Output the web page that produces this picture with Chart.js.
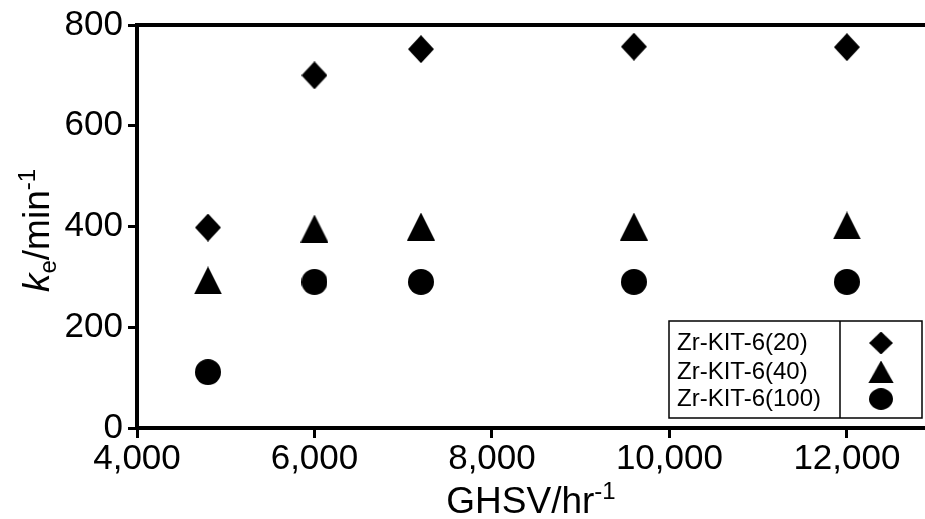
<!DOCTYPE html>
<html>
<head>
<meta charset="utf-8">
<script src="https://cdn.jsdelivr.net/npm/chart.js@4.4.1/dist/chart.umd.min.js"></script>
<style>
  html, body { margin: 0; padding: 0; background: #fff; overflow: hidden; }
  canvas { display: block; }
</style>
</head>
<body>
<canvas id="chart" width="925" height="519"></canvas>
<script>
// GHSV (hr^-1) and rate constants k_e (min^-1)
const ghsv = [4800, 6000, 7200, 9600, 12000];
const ke20 = [398, 700, 752, 757, 756];
const ke40 = [293, 396, 400, 400, 402];
const ke100 = [111, 290, 290, 290, 290];
const seriesNames = ['Zr-KIT-6(20)', 'Zr-KIT-6(40)', 'Zr-KIT-6(100)'];
const xTicks = [4000, 6000, 8000, 10000, 12000];
const yTicks = [0, 200, 400, 600, 800];

const fontFamily = "'Liberation Sans', Arial, Helvetica, sans-serif";

const makeMarker = (w, h, draw) => {
	const c = document.createElement('canvas');
	c.width = w;
	c.height = h;
	const ctx = c.getContext('2d');
	ctx.fillStyle = '#000';
	ctx.beginPath();
	draw(ctx, w, h);
	ctx.fill();
	return c;
};
const diamond = makeMarker(26, 28, (ctx, w, h) => {
	ctx.moveTo(w / 2, 0);
	ctx.lineTo(w, h / 2);
	ctx.lineTo(w / 2, h);
	ctx.lineTo(0, h / 2);
	ctx.closePath();
});
const triangle = makeMarker(28, 28, (ctx, w, h) => {
	ctx.moveTo(w / 2, 0);
	ctx.lineTo(w, h);
	ctx.lineTo(0, h);
	ctx.closePath();
});
const circle = makeMarker(26, 26, (ctx, w, h) => {
	ctx.arc(w / 2, h / 2, w / 2, 0, Math.PI * 2);
});
const markers = [diamond, triangle, circle];

const toPoints = ys => ghsv.map((x, i) => ({ x, y: ys[i] }));

// draws a run of text pieces (with sub/superscripts) centred on x
function drawRich(ctx, parts, x, y) {
	let total = 0;
	parts.forEach(p => {
		ctx.font = p.font;
		p.w = ctx.measureText(p.text).width;
		total += p.w;
	});
	let cx = x - total / 2;
	parts.forEach(p => {
		ctx.font = p.font;
		ctx.fillText(p.text, cx, y + (p.dy || 0));
		cx += p.w;
	});
}

const framePlugin = {
	id: 'frame',
	afterDraw(chart) {
		const { ctx, chartArea } = chart;
		ctx.save();
		ctx.strokeStyle = '#000';
		ctx.lineWidth = 4;
		ctx.beginPath();
		ctx.moveTo(chartArea.left - 2, chartArea.top);
		ctx.lineTo(chartArea.right, chartArea.top);
		ctx.stroke();

		// axis titles
		ctx.fillStyle = '#000';
		ctx.textBaseline = 'alphabetic';
		ctx.textAlign = 'left';
		const big = `37px ${fontFamily}`;
		const small = `24px ${fontFamily}`;
		drawRich(ctx, [
			{ text: 'GHSV/hr', font: big },
			{ text: '-1', font: small, dy: -14 }
		], (chartArea.left + chartArea.right) / 2, 513);

		ctx.translate(49, (chartArea.top + chartArea.bottom) / 2 + 4);
		ctx.rotate(-Math.PI / 2);
		drawRich(ctx, [
			{ text: 'k', font: `italic ${big}` },
			{ text: 'e', font: small, dy: 7 },
			{ text: '/min', font: big },
			{ text: '-1', font: small, dy: -14 }
		], 0, 0);
		ctx.restore();

		// legend box with names on the left and markers on the right
		const left = chartArea.right - 256, right = chartArea.right - 3;
		const top = chartArea.bottom - 107, bottom = chartArea.bottom - 10;
		const split = chartArea.right - 85;
		ctx.save();
		ctx.strokeStyle = '#000';
		ctx.lineWidth = 1.5;
		ctx.strokeRect(left, top, right - left, bottom - top);
		ctx.beginPath();
		ctx.moveTo(split, top);
		ctx.lineTo(split, bottom);
		ctx.stroke();
		ctx.fillStyle = '#000';
		ctx.font = `24px ${fontFamily}`;
		ctx.textBaseline = 'middle';
		const rowY = [top + 22, top + 51, top + 78];
		seriesNames.forEach((name, i) => {
			ctx.fillText(name, left + 8, rowY[i]);
			const m = markers[i];
			const w = m.width * 0.92, h = m.height * 0.82;
			ctx.drawImage(m, (split + right) / 2 - w / 2, rowY[i] - h / 2, w, h);
		});
		ctx.restore();
	}
};

const tickFont = { family: fontFamily, size: 35 };

new Chart(document.getElementById('chart'), {
	type: 'scatter',
	data: {
		datasets: [
			{ label: seriesNames[0], data: toPoints(ke20), pointStyle: diamond },
			{ label: seriesNames[1], data: toPoints(ke40), pointStyle: triangle },
			{ label: seriesNames[2], data: toPoints(ke100), pointStyle: circle }
		].map(ds => ({ ...ds, pointRadius: 13, pointHoverRadius: 13, clip: false }))
	},
	options: {
		responsive: false,
		devicePixelRatio: 1,
		animation: false,
		events: [],
		layout: { autoPadding: false, padding: { top: 25, right: 0, left: 0, bottom: 0 } },
		plugins: {
			legend: { display: false },
			tooltip: { enabled: false }
		},
		scales: {
			x: {
				type: 'linear',
				min: 4000,
				max: 12880,
				afterBuildTicks: s => { s.ticks = xTicks.map(v => ({ value: v })); },
				afterFit: s => {
					s.height = 91;
					s.paddingLeft = 0;
					s.paddingRight = 0;
				},
				grid: { drawOnChartArea: false, drawTicks: true, tickLength: 10, tickWidth: 3, tickColor: '#000' },
				border: { color: '#000', width: 4 },
				ticks: {
					color: '#000',
					font: tickFont,
					padding: 0,
					maxRotation: 0,
					autoSkip: false,
					callback: v => v.toLocaleString('en-US')
				}
			},
			y: {
				min: 0,
				max: 800,
				afterBuildTicks: s => { s.ticks = yTicks.map(v => ({ value: v })); },
				afterFit: s => {
					s.width = 137;
					s.paddingTop = 0;
					s.paddingBottom = 0;
				},
				grid: { drawOnChartArea: false, drawTicks: true, tickLength: 9, tickWidth: 3, tickColor: '#000' },
				border: { color: '#000', width: 4 },
				ticks: { color: '#000', font: tickFont, padding: 5 }
			}
		}
	},
	plugins: [framePlugin]
});
</script>
</body>
</html>
